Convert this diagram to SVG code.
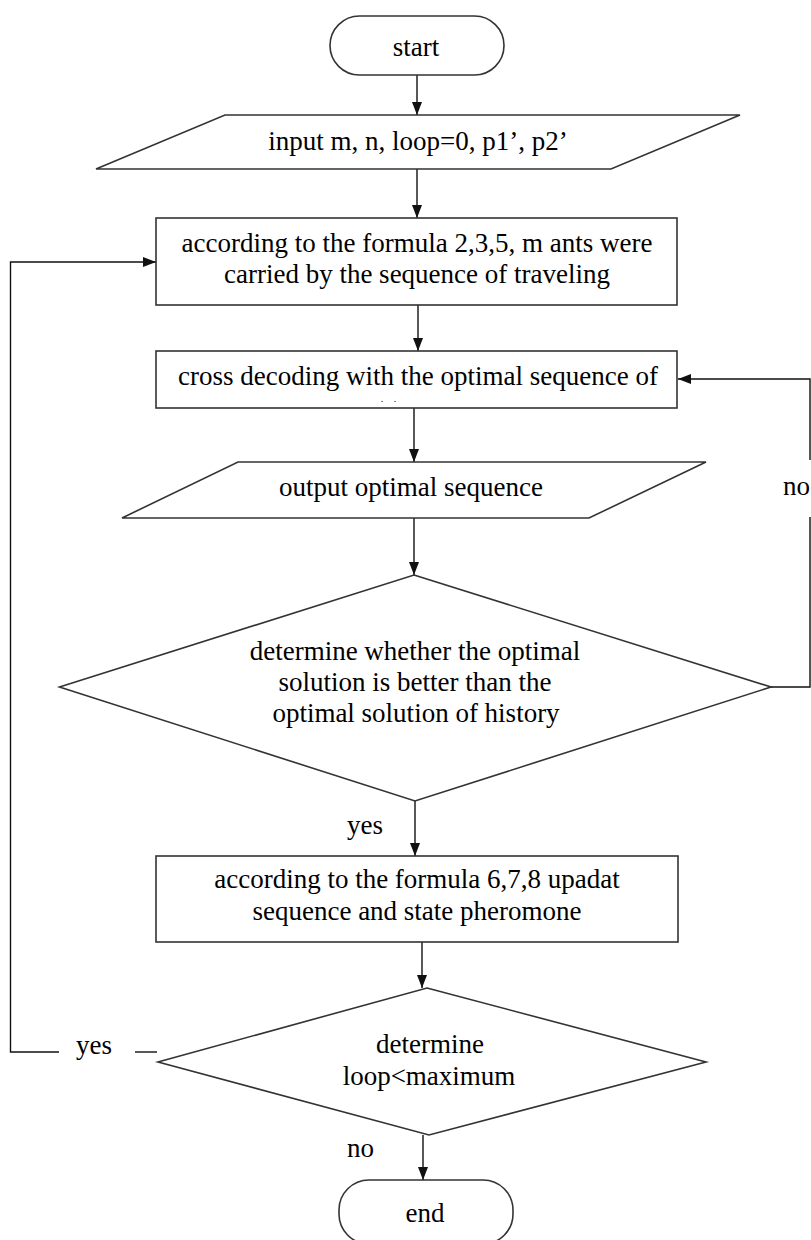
<svg xmlns="http://www.w3.org/2000/svg" width="811" height="1240" viewBox="0 0 811 1240">
<defs>
<style>
.shape{fill:#fff;stroke:#333;stroke-width:1.6}
.conn{fill:none;stroke:#111;stroke-width:1.4}
.t{font-family:"Liberation Serif","Times New Roman",serif;font-size:27px;fill:#000;text-anchor:middle}
.l{font-family:"Liberation Serif","Times New Roman",serif;font-size:27px;fill:#000}
</style>
<marker id="ah" viewBox="0 0 13 10" refX="13" refY="5" markerWidth="13" markerHeight="10" markerUnits="userSpaceOnUse" orient="auto">
<path d="M0,0 L13,5 L0,10 z" fill="#111"/>
</marker>
</defs>
<rect width="811" height="1240" fill="#fff"/>
<g id="connectors">
<line class="conn" x1="417" y1="75" x2="417" y2="115" marker-end="url(#ah)"/>
<line class="conn" x1="417" y1="169" x2="417" y2="218" marker-end="url(#ah)"/>
<line class="conn" x1="418" y1="305" x2="418" y2="351" marker-end="url(#ah)"/>
<line class="conn" x1="414" y1="408" x2="414" y2="462" marker-end="url(#ah)"/>
<line class="conn" x1="414" y1="518" x2="414" y2="575" marker-end="url(#ah)"/>
<path class="conn" d="M771,687 H810 V517"/>
<path class="conn" d="M810,460 V379 H678" marker-end="url(#ah)"/>
<line class="conn" x1="415" y1="801" x2="415" y2="856" marker-end="url(#ah)"/>
<line class="conn" x1="422" y1="942" x2="422" y2="988" marker-end="url(#ah)"/>
<line class="conn" x1="157" y1="1052" x2="135" y2="1052"/>
<path class="conn" d="M59,1052 H10.5 V262 H156" marker-end="url(#ah)"/>
<line class="conn" x1="423" y1="1135" x2="423" y2="1180" marker-end="url(#ah)"/>
<text class="l" x="783" y="495">no</text>
<text class="l" x="347" y="834">yes</text>
<text class="l" x="76" y="1054">yes</text>
<text class="l" x="347" y="1157">no</text>
</g>
<g id="start">
<rect class="shape" x="330" y="16" width="174" height="59" rx="29.5"/>
<text class="t" x="416" y="56">start</text>
</g>
<g id="input">
<polygon class="shape" points="225,115 740,115 611,169 96,169"/>
<text class="t" x="418" y="150">input m, n, loop=0, p1’, p2’</text>
</g>
<g id="carry">
<rect class="shape" x="156" y="218" width="521" height="87"/>
<text class="t" x="417" y="252">according to the formula 2,3,5, m ants were</text>
<text class="t" x="417" y="283">carried by the sequence of traveling</text>
</g>
<g id="decode">
<rect class="shape" x="156" y="351" width="521" height="57"/>
<text class="t" x="418" y="385">cross decoding with the optimal sequence of<tspan x="382 395" y="402" style="font-size:10px">..</tspan></text>
</g>
<g id="output">
<polygon class="shape" points="238,462 706,462 589,518 122,518"/>
<text class="t" x="411" y="496">output optimal sequence</text>
</g>
<g id="decision1">
<polygon class="shape" points="414,575 771,687 415,801 59.5,687"/>
<text class="t" x="415" y="660">determine whether the optimal</text>
<text class="t" x="415" y="691">solution is better than the</text>
<text class="t" x="416" y="722">optimal solution of history</text>
</g>
<g id="update">
<rect class="shape" x="156" y="856" width="522" height="86"/>
<text class="t" x="417" y="888">according to the formula 6,7,8 upadat</text>
<text class="t" x="417" y="920">sequence and state pheromone</text>
</g>
<g id="decision2">
<polygon class="shape" points="427,988 706,1062 429,1135 158,1062"/>
<text class="t" x="430" y="1053">determine</text>
<text class="t" x="429" y="1085">loop&lt;maximum</text>
</g>
<g id="end">
<rect class="shape" x="339" y="1180" width="174" height="64" rx="30"/>
<text class="t" x="425" y="1222">end</text>
</g>
</svg>
